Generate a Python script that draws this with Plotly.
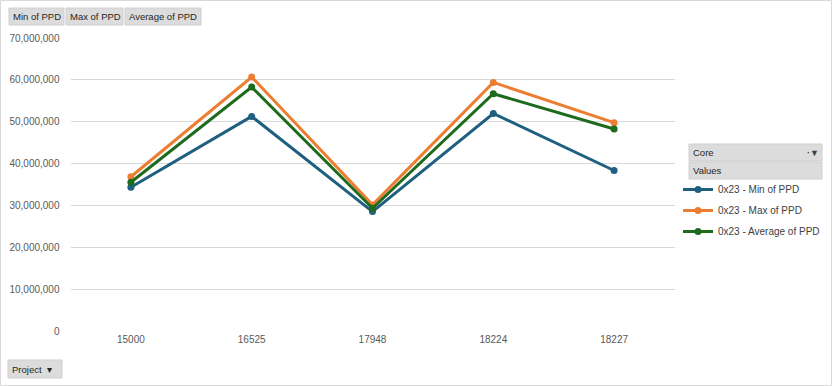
import plotly.graph_objects as go

W, H = 833, 386

projects = ["15000", "16525", "17948", "18224", "18227"]
min_ppd = [34.4e6, 51.3e6, 28.6e6, 52.0e6, 38.4e6]
max_ppd = [36.9e6, 60.7e6, 30.2e6, 59.4e6, 49.8e6]
avg_ppd = [35.6e6, 58.3e6, 29.4e6, 56.7e6, 48.3e6]
series_names = ["0x23 - Min of PPD", "0x23 - Max of PPD", "0x23 - Average of PPD"]
colors = ["#1F5F7F", "#ED7D31", "#1E6B1E"]
ytick_vals = [0, 10e6, 20e6, 30e6, 40e6, 50e6, 60e6, 70e6]
ytick_text = ["0", "10,000,000", "20,000,000", "30,000,000", "40,000,000",
              "50,000,000", "60,000,000", "70,000,000"]
field_buttons = ["Min of PPD", "Max of PPD", "Average of PPD"]

FONT = "Liberation Sans, Arial, sans-serif"

def px(x):
    return x / W

def py(y):
    return 1 - y / H

fig = go.Figure()
for i, (name, vals) in enumerate(zip(series_names, [min_ppd, max_ppd, avg_ppd])):
    fig.add_trace(go.Scatter(
        x=projects, y=vals, name=name, mode="lines+markers",
        line=dict(color=colors[i], width=3),
        marker=dict(color=colors[i], size=7),
        legendgroup=f"g{i}",
    ))

shapes = []
annotations = []

# outer border
shapes.append(dict(type="rect", xref="paper", yref="paper",
                   x0=px(0.5), x1=px(831.5), y0=py(385.5), y1=py(0.5),
                   line=dict(color="#D9D9D9", width=1), fillcolor="rgba(0,0,0,0)"))

def button(x0, x1, y0, y1, text):
    shapes.append(dict(type="rect", xref="paper", yref="paper",
                       x0=px(x0), x1=px(x1), y0=py(y1), y1=py(y0),
                       line=dict(color="#CFCFCF", width=1), fillcolor="#DCDCDC", layer="below"))
    annotations.append(dict(xref="paper", yref="paper", x=px(x0 + 2), y=py((y0 + y1) / 2),
                            text=text, showarrow=False, xanchor="left", yanchor="middle",
                            font=dict(family=FONT, size=9.5, color="#262626")))

# field buttons at top
button(9, 64, 8, 25, field_buttons[0])
button(66, 123, 8, 25, field_buttons[1])
button(125, 201, 8, 25, field_buttons[2])
# Project button
button(8, 62, 360, 378, "Project  \u25BE")
# legend headers
button(689, 822, 144, 161, "Core")
button(689, 822, 162, 179, "Values")
annotations.append(dict(xref="paper", yref="paper", x=px(813), y=py(152.5),
                        text="<b>\u00B7\u25BC</b>", showarrow=False, xanchor="center", yanchor="middle",
                        font=dict(family=FONT, size=9, color="#404040")))

fig.update_layout(
    width=W, height=H,
    margin=dict(l=0, r=0, t=0, b=0, autoexpand=False),
    paper_bgcolor="white", plot_bgcolor="white",
    font=dict(family=FONT, size=10, color="#595959"),
    xaxis=dict(domain=[px(70.5), px(674.5)], range=[-0.5, 4.5], showgrid=False, showline=False,
               automargin=False, ticks="", tickfont=dict(size=10, color="#595959"), zeroline=False),
    yaxis=dict(domain=[py(331.5), py(38)], range=[0, 70e6], tickvals=ytick_vals,
               ticktext=ytick_text, showgrid=True, gridcolor="#D9D9D9", gridwidth=1,
               automargin=False,
               zeroline=False, showline=False, ticks="", ticklabelstandoff=10,
               tickfont=dict(size=10, color="#595959")),
    showlegend=True,
    legend=dict(x=px(678), y=py(175), xanchor="left", yanchor="top",
                bgcolor="rgba(0,0,0,0)", traceorder="grouped", tracegroupgap=2,
                font=dict(family=FONT, size=10, color="#404040"), itemwidth=30),
    shapes=shapes, annotations=annotations,
)

fig.write_html("out.html", config={"displayModeBar": False},
               post_script="document.body.style.margin='0px';document.body.style.padding='0px';")
